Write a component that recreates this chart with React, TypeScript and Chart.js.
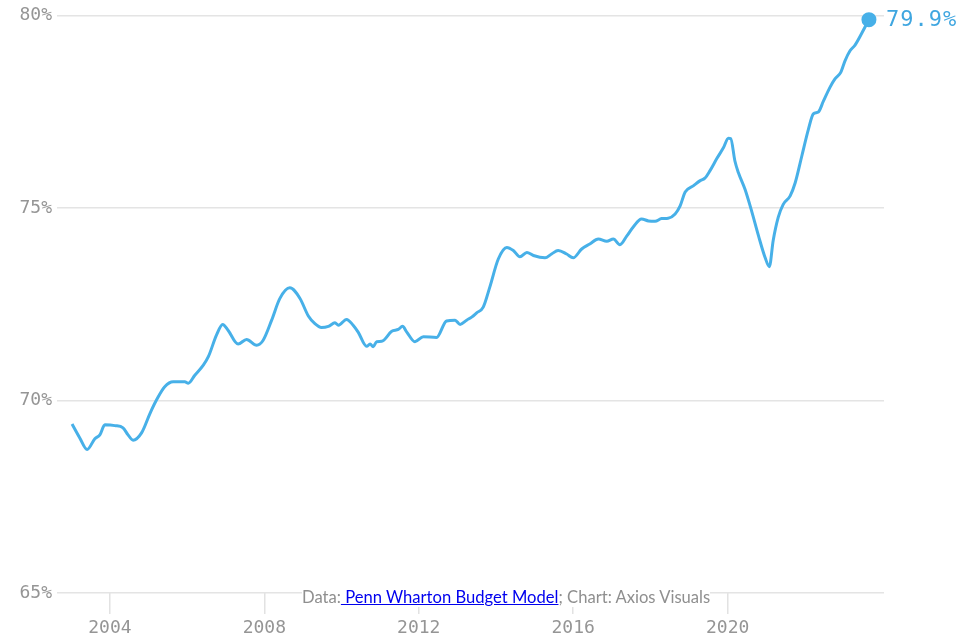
import React, { useEffect, useRef } from "react";
import { Chart, registerables } from "chart.js";

Chart.register(...registerables);

// Decimal year positions of the traced points
const years = [
  2003.02, 2003.22, 2003.41, 2003.61, 2003.74, 2003.87, 2004.13, 2004.34, 2004.47, 2004.6,
  2004.82, 2005.04, 2005.21, 2005.42, 2005.64, 2005.94, 2006.03, 2006.2, 2006.42, 2006.55,
  2006.76, 2006.92, 2007.06, 2007.32, 2007.54, 2007.8, 2007.97, 2008.19, 2008.4, 2008.66,
  2008.92, 2009.14, 2009.31, 2009.48, 2009.66, 2009.83, 2009.92, 2010.13, 2010.3, 2010.43,
  2010.65, 2010.74, 2010.82, 2010.91, 2011.04, 2011.3, 2011.47, 2011.58, 2011.69, 2011.9,
  2012.12, 2012.46, 2012.72, 2012.94, 2013.07, 2013.24, 2013.37, 2013.5, 2013.67, 2013.84,
  2014.06, 2014.28, 2014.45, 2014.62, 2014.8, 2014.97, 2015.27, 2015.44, 2015.61, 2015.83,
  2016.0, 2016.22, 2016.43, 2016.65, 2016.87, 2017.04, 2017.21, 2017.39, 2017.56, 2017.77,
  2017.95, 2018.12, 2018.29, 2018.46, 2018.64, 2018.77, 2018.9, 2019.11, 2019.28, 2019.41,
  2019.54, 2019.72, 2019.89, 2020.02, 2020.08, 2020.19, 2020.28, 2020.45, 2020.62, 2020.8,
  2020.97, 2021.08, 2021.18, 2021.31, 2021.44, 2021.62, 2021.75, 2021.92, 2022.09, 2022.22,
  2022.35, 2022.48, 2022.65, 2022.78, 2022.93, 2023.04, 2023.17, 2023.3, 2023.47, 2023.66,
];

// Percent values
const values = [
  69.39, 69.03, 68.73, 69.01, 69.11, 69.37, 69.35, 69.29, 69.11, 68.97,
  69.16, 69.67, 70.02, 70.36, 70.49, 70.49, 70.45, 70.66, 70.92, 71.14,
  71.7, 71.98, 71.83, 71.47, 71.59, 71.44, 71.57, 72.09, 72.65, 72.93,
  72.66, 72.2, 72.0, 71.9, 71.93, 72.02, 71.96, 72.11, 71.96, 71.78,
  71.41, 71.47, 71.4, 71.53, 71.54, 71.8, 71.85, 71.93, 71.78, 71.53,
  71.66, 71.64, 72.07, 72.09, 71.98, 72.09, 72.17, 72.28, 72.43, 72.95,
  73.68, 73.98, 73.9, 73.74, 73.85, 73.77, 73.71, 73.81, 73.9, 73.81,
  73.71, 73.94, 74.07, 74.2, 74.14, 74.2, 74.05, 74.28, 74.52, 74.72,
  74.67, 74.66, 74.73, 74.74, 74.85, 75.06, 75.42, 75.58, 75.71, 75.78,
  75.97, 76.29, 76.57, 76.82, 76.81, 76.22, 75.92, 75.49, 74.93, 74.28,
  73.72, 73.48, 74.16, 74.76, 75.1, 75.32, 75.66, 76.35, 77.04, 77.45,
  77.5, 77.78, 78.14, 78.36, 78.53, 78.83, 79.09, 79.24, 79.54, 79.9,
];

const xTicks = [2004, 2008, 2012, 2016, 2020];
const yTicks = [65, 70, 75, 80];
const endLabel = "79.9%";

const LINE = "#47b0e8";
const MONO = "'DejaVu Sans Mono', 'Liberation Mono', monospace";

export default function App() {
  const ref = useRef<HTMLCanvasElement | null>(null);

  useEffect(() => {
    if (!ref.current) return;
    const data = years.map((x, i) => ({ x, y: values[i] }));
    const last = data.length - 1;

    const endLabelPlugin = {
      id: "endLabel",
      afterDatasetsDraw(chart: any) {
        const meta = chart.getDatasetMeta(0);
        const pt = meta.data[last];
        if (!pt) return;
        const ctx = chart.ctx;
        ctx.save();
        ctx.fillStyle = "#3fa6e0";
        ctx.font = `22px ${MONO}`;
        ctx.textBaseline = "middle";
        ctx.textAlign = "left";
        (ctx as any).letterSpacing = "1px";
        ctx.fillText(endLabel, pt.x + 17, pt.y + 0.5);
        ctx.restore();
      },
    };

    const chart = new Chart(ref.current, {
      type: "line",
      data: {
        datasets: [
          {
            data,
            borderColor: LINE,
            backgroundColor: LINE,
            borderWidth: 3,
            tension: 0.3,
            cubicInterpolationMode: "monotone",
            pointRadius: (c: any) => (c.dataIndex === last ? 6 : 0),
            pointHoverRadius: 0,
            clip: false,
          } as any,
        ],
      },
      plugins: [endLabelPlugin],
      options: {
        animation: false,
        responsive: true,
        maintainAspectRatio: false,
        layout: { padding: { top: 12, right: 94, left: 0, bottom: 0 } },
        plugins: { legend: { display: false }, tooltip: { enabled: false } },
        scales: {
          x: {
            type: "linear",
            min: 2002.63,
            max: 2024.05,
            afterBuildTicks: (s: any) => {
              s.ticks = xTicks.map((v) => ({ value: v }));
            },
            afterFit: (s: any) => {
              s.height = 46;
            },
            border: { display: false },
            grid: {
              drawOnChartArea: false,
              drawTicks: true,
              tickLength: 21,
              color: "#e2e2e2",
              lineWidth: 1.5,
            },
            ticks: {
              color: "#959595",
              font: { family: MONO, size: 18 },
              padding: 4,
              maxRotation: 0,
              callback: (v: any) => String(v),
            },
          },
          y: {
            min: 65,
            max: 80,
            afterBuildTicks: (s: any) => {
              s.ticks = yTicks.map((v) => ({ value: v }));
            },
            afterFit: (s: any) => {
              s.width = 57;
            },
            border: { display: false },
            grid: {
              drawTicks: false,
              color: "#e4e4e4",
              lineWidth: 1.5,
            },
            ticks: {
              color: "#959595",
              font: { family: MONO, size: 18 },
              padding: 5,
              callback: (v: any) => `${v}%`,
            },
          },
        },
      },
    });
    return () => chart.destroy();
  }, []);

  return (
    <div style={{ position: "fixed", left: 0, top: 0, width: 978, height: 639, background: "#fff" }}>
      <canvas ref={ref} />
      <div
        style={{
          position: "absolute",
          left: 302,
          top: 587,
          fontFamily: "Lato, 'Noto Sans', sans-serif",
          fontSize: 16.6,
          lineHeight: "20px",
          color: "#8f8f8f",
          background: "#fff",
          whiteSpace: "nowrap",
        }}
      >
        Data:
        <a href="#" style={{ color: "#0000ee", textDecoration: "underline" }}>
          {" Penn Wharton Budget Model"}
        </a>
        ; Chart: Axios Visuals
      </div>
    </div>
  );
}
